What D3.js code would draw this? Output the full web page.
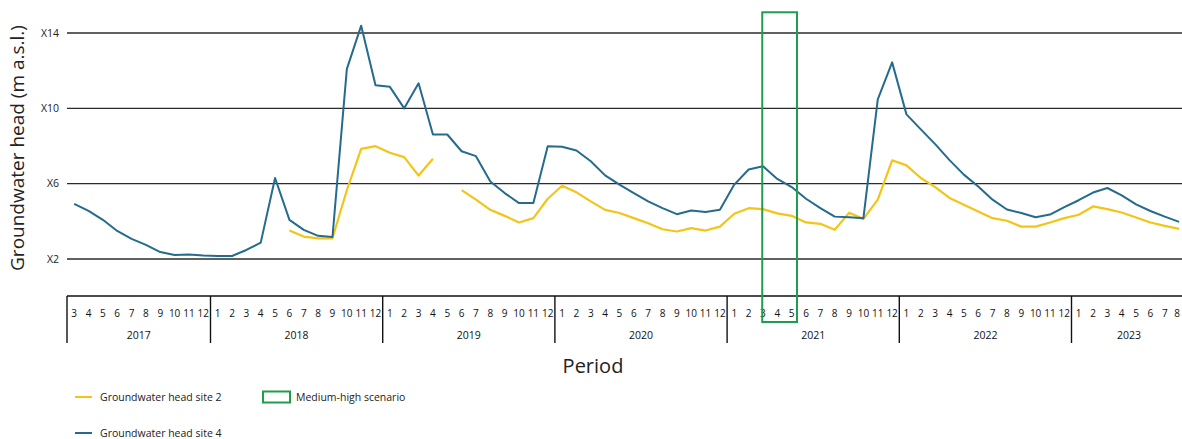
<!DOCTYPE html>
<html>
<head>
<meta charset="utf-8">
<script src="https://cdn.jsdelivr.net/npm/d3@7"></script>
<style>
  body { margin: 0; background: #fff; }
  svg { display: block; font-family: "Open Sans", "Noto Sans", sans-serif; }
</style>
</head>
<body>
<div id="chart"></div>
<script>
// period covered: 2017-03 .. 2023-08
const years = [2017, 2018, 2019, 2020, 2021, 2022, 2023];
const firstMonth = 3;   // in first year
const lastMonth = 8;    // in last year

const yTicks = [2, 6, 10, 14];
const yTickLabels = ["X2", "X6", "X10", "X14"];

// groundwater head site 4 (blue), one value per month
const site4 = [
  4.93, 4.56, 4.08, 3.49, 3.07, 2.75, 2.37, 2.21, 2.24, 2.19,
  2.16, 2.16, 2.48, 2.87, 6.30, 4.08, 3.55, 3.23, 3.17, 12.08, 14.39, 11.23,
  11.14, 10.0, 11.33, 8.61, 8.61, 7.72, 7.46, 6.12, 5.50, 4.97, 4.97, 7.99,
  7.96, 7.76, 7.19, 6.44, 5.95, 5.50, 5.06, 4.70, 4.38, 4.58, 4.49, 4.61,
  5.95, 6.75, 6.92, 6.25, 5.82, 5.20, 4.70, 4.25, 4.22, 4.17, 10.48, 12.44,
  9.68, 8.88, 8.10, 7.25, 6.48, 5.85, 5.15, 4.63, 4.44, 4.22, 4.36, 4.75,
  5.12, 5.53, 5.77, 5.38, 4.90, 4.55, 4.25, 3.97
];

// groundwater head site 2 (yellow), null = no measurement
const site2 = [
  null, null, null, null, null, null, null, null, null, null,
  null, null, null, null, null, 3.51, 3.19, 3.10, 3.10, 5.65, 7.85, 7.99,
  7.64, 7.41, 6.43, 7.32, null, 5.66, 5.15, 4.61, 4.29, 3.94, 4.17, 5.20,
  5.89, 5.54, 5.06, 4.61, 4.44, 4.17, 3.90, 3.58, 3.46, 3.64, 3.51, 3.72,
  4.40, 4.70, 4.65, 4.42, 4.29, 3.94, 3.87, 3.55, 4.45, 4.13, 5.15, 7.24,
  6.97, 6.30, 5.82, 5.24, 4.88, 4.52, 4.17, 4.03, 3.72, 3.72, 3.94, 4.17,
  4.35, 4.79, 4.65, 4.47, 4.20, 3.94, 3.76, 3.60
];

// medium-high scenario window
const scenario = { start: "2021-3", end: "2021-5" };

const legendItems = [
  { label: "Groundwater head site 2", color: "#f4c416", type: "line" },
  { label: "Medium-high scenario", color: "#1e9e4c", type: "rect" },
  { label: "Groundwater head site 4", color: "#246b8d", type: "line" }
];

// build month keys
const periods = [];
years.forEach((yr, yi) => {
  const m0 = yi === 0 ? firstMonth : 1;
  const m1 = yi === years.length - 1 ? lastMonth : 12;
  for (let m = m0; m <= m1; m++) periods.push({ key: yr + "-" + m, year: yr, month: m });
});

const width = 1182, height = 439;
const plotLeft = 67;
const monthW = 14.35;

const svg = d3.select("#chart").append("svg")
  .attr("width", width)
  .attr("height", height);

const x = d3.scaleBand()
  .domain(periods.map(p => p.key))
  .range([plotLeft, plotLeft + periods.length * monthW])
  .padding(0);

const y = d3.scaleLinear().domain([2, 14]).range([259, 33]);

const xc = k => x(k) + x.bandwidth() / 2;

// gridlines + y labels
svg.append("g")
  .selectAll("line")
  .data(yTicks)
  .join("line")
  .attr("x1", plotLeft).attr("x2", width)
  .attr("y1", d => y(d)).attr("y2", d => y(d))
  .attr("stroke", "#2b2b2b")
  .attr("stroke-width", 1.4);

svg.append("g")
  .selectAll("text")
  .data(yTicks)
  .join("text")
  .attr("x", 59)
  .attr("y", d => y(d))
  .attr("dy", "0.35em")
  .attr("text-anchor", "end")
  .attr("font-size", 10.5)
  .attr("fill", "#222")
  .text((d, i) => yTickLabels[i]);

svg.append("text")
  .attr("transform", "translate(24,148) rotate(-90)")
  .attr("text-anchor", "middle")
  .attr("font-size", 19)
  .attr("fill", "#222")
  .text("Groundwater head (m a.s.l.)");

// x axis: box with months and years
const axisTop = 296, axisBottom = 343;
svg.append("line")
  .attr("x1", plotLeft).attr("x2", width)
  .attr("y1", axisTop).attr("y2", axisTop)
  .attr("stroke", "#111").attr("stroke-width", 1.4);

const yearStarts = years.map(yr => periods.find(p => p.year === yr).key);
svg.append("g")
  .selectAll("line")
  .data(yearStarts)
  .join("line")
  .attr("x1", d => x(d)).attr("x2", d => x(d))
  .attr("y1", axisTop).attr("y2", axisBottom)
  .attr("stroke", "#111").attr("stroke-width", 1.4);

svg.append("g")
  .selectAll("text")
  .data(periods)
  .join("text")
  .attr("x", d => Math.min(xc(d.key), width - 5))   // keep last label on the page
  .attr("y", 313)
  .attr("dy", "0.35em")
  .attr("text-anchor", "middle")
  .attr("font-size", 10)
  .attr("fill", "#111")
  .text(d => d.month);

svg.append("g")
  .selectAll("text")
  .data(years)
  .join("text")
  .attr("x", yr => {
    const ps = periods.filter(p => p.year === yr);
    return (x(ps[0].key) + x(ps[ps.length - 1].key) + x.bandwidth()) / 2;
  })
  .attr("y", 335)
  .attr("dy", "0.35em")
  .attr("text-anchor", "middle")
  .attr("font-size", 10.5)
  .attr("fill", "#111")
  .text(d => d);

svg.append("text")
  .attr("x", 593)
  .attr("y", 366)
  .attr("dy", "0.35em")
  .attr("text-anchor", "middle")
  .attr("font-size", 20)
  .attr("fill", "#222")
  .text("Period");

// series
const line = d3.line()
  .defined(d => d.v != null)
  .x(d => xc(d.key))
  .y(d => y(d.v));

svg.append("path")
  .datum(periods.map((p, i) => ({ key: p.key, v: site2[i] })))
  .attr("fill", "none")
  .attr("stroke", legendItems[0].color)
  .attr("stroke-width", 2.2)
  .attr("stroke-linejoin", "round")
  .attr("d", line);

svg.append("path")
  .datum(periods.map((p, i) => ({ key: p.key, v: site4[i] })))
  .attr("fill", "none")
  .attr("stroke", legendItems[2].color)
  .attr("stroke-width", 2)
  .attr("stroke-linejoin", "round")
  .attr("d", line);

// scenario box
const sx0 = x(scenario.start) + x.bandwidth() * 0.45;
const sx1 = x(scenario.end) + x.bandwidth() * 0.87;
svg.append("rect")
  .attr("x", sx0)
  .attr("y", y(15.1))
  .attr("width", sx1 - sx0)
  .attr("height", 322 - y(15.1))
  .attr("fill", "none")
  .attr("stroke", legendItems[1].color)
  .attr("stroke-width", 2);

// legend
const legendPos = [[75, 397], [263, 397], [75, 433]];
const lg = svg.append("g")
  .selectAll("g")
  .data(legendItems)
  .join("g")
  .attr("transform", (d, i) => `translate(${legendPos[i][0]},${legendPos[i][1]})`);

lg.filter(d => d.type === "line").append("line")
  .attr("x1", 0).attr("x2", 17)
  .attr("stroke", d => d.color)
  .attr("stroke-width", 2);

lg.filter(d => d.type === "rect").append("rect")
  .attr("x", 0).attr("y", -5.5)
  .attr("width", 27).attr("height", 11)
  .attr("fill", "none")
  .attr("stroke", d => d.color)
  .attr("stroke-width", 2);

lg.append("text")
  .attr("x", d => d.type === "rect" ? 33 : 25)
  .attr("dy", "0.35em")
  .attr("font-size", 10.5)
  .attr("fill", "#222")
  .text(d => d.label);
</script>
</body>
</html>
